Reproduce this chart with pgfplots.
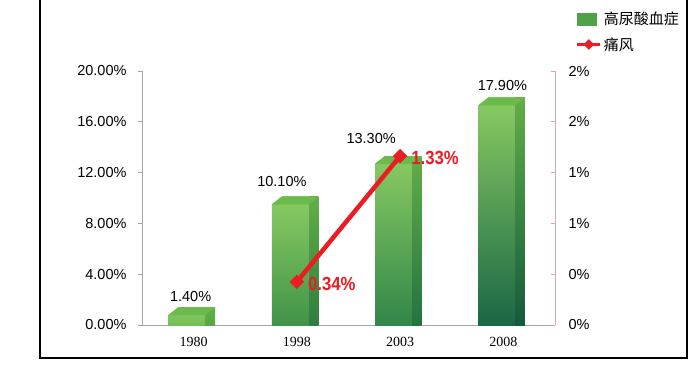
\documentclass[border=0pt]{standalone}
\usepackage{pgfplots}
\pgfplotsset{compat=1.18}
\usepackage{pgfplotstable}
\usepackage{fontspec}
\setmainfont{Liberation Sans}
\newfontfamily\serifx{Liberation Serif}
\newfontfamily\redf[FakeStretch=0.88]{Liberation Sans}
\newfontfamily\cjk{Noto Sans CJK SC}

\definecolor{axgray}{HTML}{A6A6A6}
\definecolor{axpink}{HTML}{DDA6AE}
\definecolor{gred}{HTML}{EC1C24}
\definecolor{fronttop}{HTML}{8ACC62}
\definecolor{frontbA}{HTML}{74BD57}
\definecolor{frontbB}{HTML}{419349}
\definecolor{frontbC}{HTML}{32864A}
\definecolor{frontbD}{HTML}{1B6646}
\definecolor{sidetop}{HTML}{62AE47}
\definecolor{sidebA}{HTML}{5AA646}
\definecolor{sidebB}{HTML}{2F7D3F}
\definecolor{sidebC}{HTML}{257240}
\definecolor{sidebD}{HTML}{145A3C}
\definecolor{topgreen}{HTML}{6CBA4C}
\definecolor{barleg}{HTML}{4FA248}

\pgfplotsset{
  redleg/.style={legend image code/.code={\draw[mark repeat=2,mark phase=2,##1, line width=3pt, mark size=3.5pt] plot coordinates {(0pt,0pt) (11.5pt,0pt) (23pt,0pt)};}},
  barleg/.style={legend image code/.code={\fill[barleg] (0pt,-6pt) rectangle (19pt,6pt);}},
}

\pgfdeclareplotmark{top3d}{%
  \pgfpathmoveto{\pgfpoint{-26pt}{-8pt}}%
  \pgfpathlineto{\pgfpoint{-26pt}{1pt}}%
  \pgfpathlineto{\pgfpoint{-14.5pt}{1pt}}%
  \pgfpathclose
  \pgfsetfillcolor{white}%
  \pgfusepath{fill}%
  \pgfpathmoveto{\pgfpoint{-25pt}{-8pt}}%
  \pgfpathlineto{\pgfpoint{11.5pt}{-8pt}}%
  \pgfpathlineto{\pgfpoint{21.5pt}{0pt}}%
  \pgfpathlineto{\pgfpoint{-15pt}{0pt}}%
  \pgfpathclose
  \pgfsetfillcolor{topgreen}%
  \pgfusepath{fill}%
}

\pgfplotstableread{
x y dx dy
0 1.4 -3 6
1 10.1 -15 10
2 13.3 -29 13
3 17.9 -1 7
}\bars

\pgfplotstableread{
x y
1 0.34
2 1.33
}\gout

\begin{document}
\begin{tikzpicture}[x=1pt,y=1pt]
\useasboundingbox (0,0) rectangle (700,364);
\fill[white] (0,0) rectangle (700,364);
\begin{axis}[
  at={(142pt,39pt)}, anchor=south west,
  scale only axis, width=413pt, height=254pt,
  xmin=-0.5, xmax=3.5, ymin=0, ymax=20,
  axis x line*=bottom, axis y line*=left,
  axis line style={draw=axgray, line width=0.8pt},
  xtick={0,1,2,3}, xticklabels={1980,1998,2003,2008},
  x tick style={draw=none},
  extra x ticks={0.5,1.5,2.5}, extra x tick labels={},
  extra x tick style={tick style={draw=axgray, line width=0.8pt}, major tick length=5pt},
  ytick={0,4,8,12,16,20},
  yticklabels={0.00\%,4.00\%,8.00\%,12.00\%,16.00\%,20.00\%},
  y tick style={draw=axgray, line width=0.8pt},
  tick align=outside, major tick length=4pt,
  xticklabel style={font=\serifx\fontsize{14}{14}\selectfont, yshift=-5pt},
  yticklabel style={font=\fontsize{14.5}{14.5}\selectfont, xshift=-8pt},
  /pgf/number format/assume math mode=true,
  clip=false,
]
% side faces
\addplot[ybar, bar width=10pt, bar shift=16.5pt, draw=none, top color=sidetop, bottom color=sidebA] coordinates {(0,1.4)};
\addplot[ybar, bar width=10pt, bar shift=16.5pt, draw=none, top color=sidetop, bottom color=sidebB] coordinates {(1,10.1)};
\addplot[ybar, bar width=10pt, bar shift=16.5pt, draw=none, top color=sidetop, bottom color=sidebC] coordinates {(2,13.3)};
\addplot[ybar, bar width=10pt, bar shift=16.5pt, draw=none, top color=sidetop, bottom color=sidebD] coordinates {(3,17.9)};
% front faces
\addplot[ybar, bar width=36.5pt, bar shift=-6.75pt, draw=none, top color=fronttop, bottom color=frontbA] coordinates {(0,1.4)};
\addplot[ybar, bar width=36.5pt, bar shift=-6.75pt, draw=none, top color=fronttop, bottom color=frontbB] coordinates {(1,10.1)};
\addplot[ybar, bar width=36.5pt, bar shift=-6.75pt, draw=none, top color=fronttop, bottom color=frontbC] coordinates {(2,13.3)};
\addplot[ybar, bar width=36.5pt, bar shift=-6.75pt, draw=none, top color=fronttop, bottom color=frontbD] coordinates {(3,17.9)};
% top faces and value labels
\addplot[only marks, mark=top3d,
  visualization depends on={\thisrow{dx} \as \ldx},
  visualization depends on={\thisrow{dy} \as \ldy},
  nodes near coords={\pgfmathprintnumber[fixed,fixed zerofill,precision=2]{\pgfplotspointmeta}\%},
  every node near coord/.append style={anchor=base, inner sep=0pt, xshift=\ldx pt, yshift=\ldy pt, font=\fontsize{14.5}{14.5}\selectfont, text=black},
] table[x=x,y=y] {\bars};
\end{axis}

\begin{axis}[
  at={(142pt,39pt)}, anchor=south west,
  scale only axis, width=413pt, height=254pt,
  xmin=-0.5, xmax=3.5, ymin=0, ymax=2,
  axis x line=none, axis y line*=right,
  axis line style={draw=axpink, line width=0.8pt},
  ytick={0,0.4,0.8,1.2,1.6,2},
  yticklabels={0\%,0\%,1\%,1\%,2\%,2\%},
  y tick style={draw=axpink, line width=0.8pt},
  tick align=inside, major tick length=4pt,
  yticklabel style={font=\fontsize{14.5}{14.5}\selectfont, xshift=10pt},
  /pgf/number format/assume math mode=true,
  clip=false,
  legend style={at={(1.05,1.24)}, anchor=north west, draw=none, fill=none,
    font=\cjk\fontsize{15}{15}\selectfont, row sep=7pt, inner sep=0pt},
  legend cell align=left,
]
\addlegendimage{barleg}
\addlegendentry{高尿酸血症}
\addplot[gred, line width=4.5pt, mark=square*, mark size=4.8pt, mark options={solid, rotate=45, fill=gred, draw=gred, line width=0.5pt},
  nodes near coords={\pgfmathprintnumber[fixed,fixed zerofill,precision=2]{\pgfplotspointmeta}\%},
  every node near coord/.append style={anchor=west, inner sep=0pt, xshift=11pt, yshift=-2pt, font=\redf\bfseries\fontsize{19}{19}\selectfont, text=gred},
  redleg,
] table[x=x,y=y] {\gout};
\addlegendentry{痛风}
\end{axis}

\draw[black, line width=2pt] (40,364) -- (40,6) -- (687,6) -- (687,364);
\end{tikzpicture}
\end{document}
